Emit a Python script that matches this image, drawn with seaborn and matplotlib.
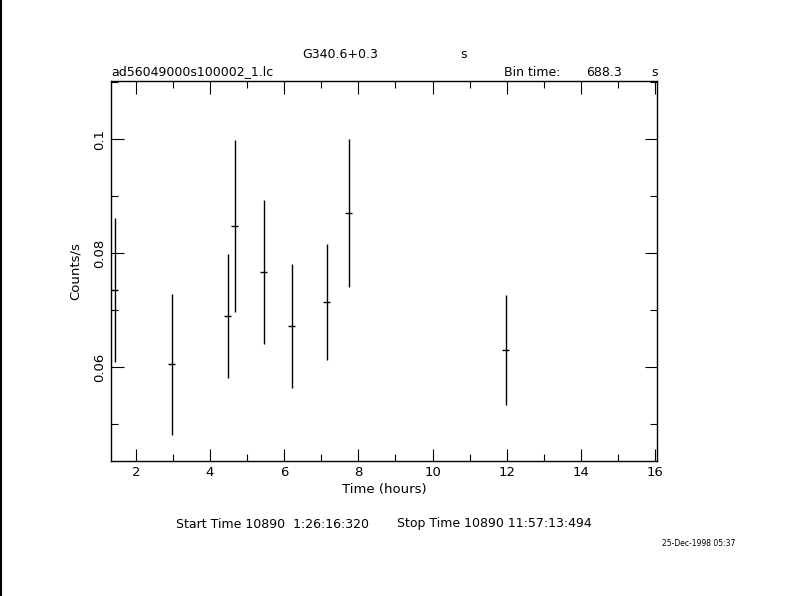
import numpy as np
import matplotlib
matplotlib.use('Agg')
import matplotlib.pyplot as plt
import seaborn as sns
from matplotlib.ticker import MultipleLocator

# light curve values
time_hr = [1.43, 2.97, 4.48, 4.67, 5.45, 6.20, 7.15, 7.74, 11.97]
rate = [0.0735, 0.0605, 0.0689, 0.0847, 0.0767, 0.0672, 0.0714, 0.0870, 0.0630]
rate_err = [0.0127, 0.0124, 0.0109, 0.0151, 0.0127, 0.0108, 0.0102, 0.0130, 0.0097]
bin_half = 688.3 / 3600.0 / 2

sns.set_theme(style='white')
plt.rcParams['font.family'] = ['DejaVu Sans']
plt.rcParams['text.color'] = 'black'
plt.rcParams['axes.labelcolor'] = 'black'

fig = plt.figure(figsize=(7.9, 5.96), dpi=100)
ax = fig.add_axes([0.1405, 0.2265, 0.6911, 0.6376])

ax.errorbar(time_hr, rate, yerr=rate_err, xerr=bin_half, fmt='none',
            ecolor='black', elinewidth=1.0, capsize=0)

ax.set_xlim(1.33, 16.05)
ax.set_ylim(0.0435, 0.1102)
ax.xaxis.set_major_locator(MultipleLocator(2))
ax.xaxis.set_minor_locator(MultipleLocator(1))
ax.yaxis.set_major_locator(MultipleLocator(0.02))
ax.yaxis.set_minor_locator(MultipleLocator(0.01))
ax.yaxis.set_major_formatter(plt.FuncFormatter(lambda v, p: '{:g}'.format(round(v, 3))))
ax.tick_params(which='both', direction='in', top=True, right=True, bottom=True, left=True,
               colors='black', labelsize=9.5, width=0.8)
ax.tick_params(which='major', length=9)
ax.tick_params(which='minor', length=5)
for lab in ax.get_yticklabels():
    lab.set_rotation(90)
    lab.set_va('center')
for sp in ax.spines.values():
    sp.set_color('black')
    sp.set_linewidth(1.0)

ax.set_xlabel('Time (hours)', fontsize=9.5, labelpad=3)
ax.set_ylabel('Counts/s', fontsize=9.5, labelpad=8)

fig.text(340 / 790, 1 - 54 / 596, 'G340.6+0.3', ha='center', va='center', fontsize=9)
fig.text(464 / 790, 1 - 54 / 596, 's', ha='center', va='center', fontsize=9)
fig.text(111 / 790, 1 - 72 / 596, 'ad56049000s100002_1.lc', ha='left', va='center', fontsize=9)
fig.text(504 / 790, 1 - 72 / 596, 'Bin time:', ha='left', va='center', fontsize=9)
fig.text(586 / 790, 1 - 72 / 596, '688.3', ha='left', va='center', fontsize=9)
fig.text(651 / 790, 1 - 72 / 596, 's', ha='left', va='center', fontsize=9)
fig.text(176 / 790, 1 - 524 / 596, 'Start Time 10890  1:26:16:320', ha='left', va='center', fontsize=9)
fig.text(397 / 790, 1 - 524 / 596, 'Stop Time 10890 11:57:13:494', ha='left', va='center', fontsize=9)
fig.text(735 / 790, 1 - 544 / 596, '25-Dec-1998 05:37', ha='right', va='center', fontsize=5.5)

# frame line on the left edge
fig.add_artist(plt.Line2D([0.001, 0.001], [0, 1], color='black', linewidth=1.5,
                          transform=fig.transFigure))

fig.savefig('out.png', dpi=100, facecolor='white')
